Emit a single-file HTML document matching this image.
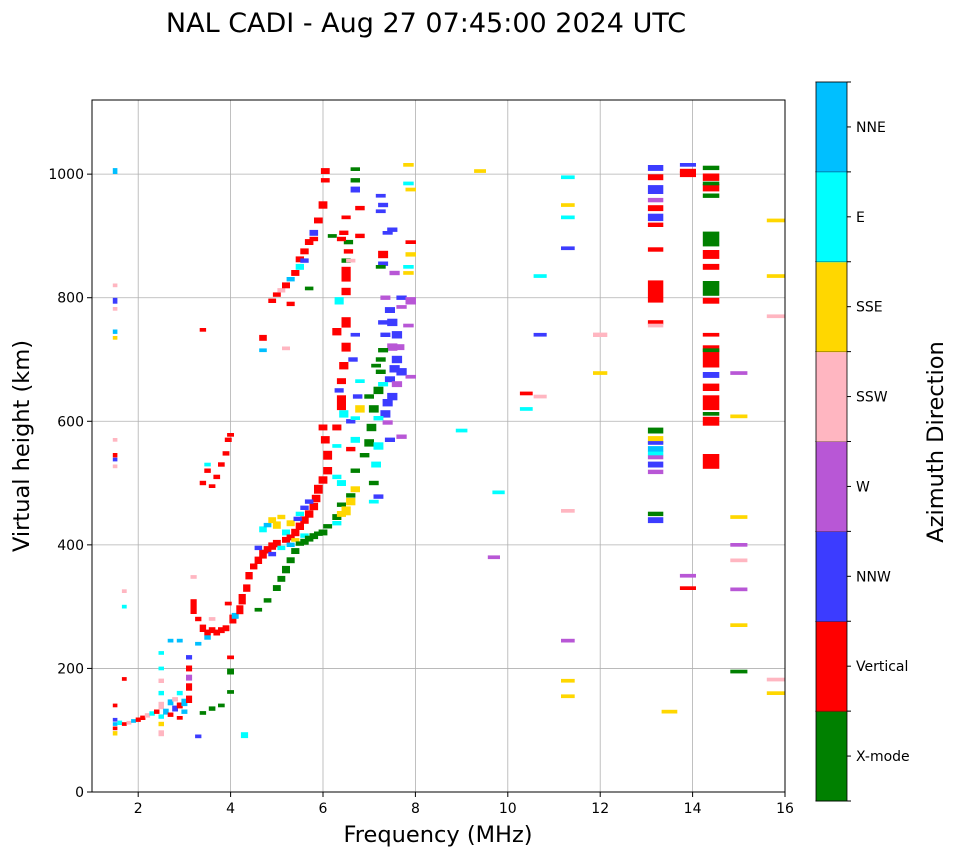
<!DOCTYPE html>
<html><head><meta charset="utf-8">
<style>
html,body{margin:0;padding:0;background:#fff;}
svg{display:block;font-family:"DejaVu Sans","Liberation Sans",sans-serif;}
</style></head>
<body>
<svg id="chart" width="958" height="857" viewBox="0 0 958 857">
  <text x="426" y="32" text-anchor="middle" font-size="27">NAL CADI - Aug 27 07:45:00 2024 UTC</text>
  <g id="grid"></g>
  <g id="marks"></g>
  <rect x="92" y="100" width="693" height="692" fill="none" stroke="#000" stroke-width="1"/>
  <g id="axes"></g>
  <text x="438" y="842" text-anchor="middle" font-size="22.5">Frequency (MHz)</text>
  <text transform="translate(29,446) rotate(-90)" text-anchor="middle" font-size="22.5">Virtual height (km)</text>
  <g id="cbar"></g>
  <text transform="translate(943,442) rotate(-90)" text-anchor="middle" font-size="22.5">Azimuth Direction</text>
</svg>
<script>
const categories = ["X-mode","Vertical","NNW","W","SSW","SSE","E","NNE"];
const catColors = ["#008000","#ff0000","#3c3cff","#b857d6","#ffb6c1","#ffd700","#00ffff","#00bfff"];
const xTicks = [2,4,6,8,10,12,14,16];
const yTicks = [0,200,400,600,800,1000];
// echo data: frequency (MHz), virtual height (km), vertical extent (km), direction index
const freqs = [
1.5,1.5,1.5,1.5,1.5,1.5,1.5,1.5,1.5,1.5,1.5,1.5,1.5,1.5,1.5,1.7,1.7,1.7,
1.6,1.7,1.8,1.9,2.0,2.1,2.2,2.3,2.4,
2.5,2.5,2.5,2.5,2.5,2.5,2.5,2.5,
2.6,2.7,2.7,2.8,2.8,2.9,2.9,3.0,3.0,3.1,3.1,3.1,3.1,3.1,2.9,2.7,2.9,
3.2,3.2,3.3,3.3,3.4,3.5,3.5,3.6,3.7,3.8,3.9,3.95,3.6,3.3,
3.4,3.6,3.8,4.0,4.0,4.0,4.3,
4.05,4.1,4.2,4.25,4.35,4.4,4.5,4.6,4.7,4.8,4.9,5.0,4.6,
4.7,4.8,4.9,5.0,5.1,5.2,5.3,5.2,5.3,5.4,5.5,5.6,5.7,5.8,5.85,5.9,6.0,6.1,6.1,6.05,6.0,5.5,5.6,5.45,5.7,5.3,4.9,5.1,5.4,5.6,
4.6,4.8,5.0,5.1,5.2,5.3,5.4,5.5,5.6,5.7,5.8,5.9,6.0,6.1,6.3,6.4,6.6,6.7,6.9,7.0,7.05,7.1,7.2,7.25,6.5,6.55,6.7,5.7,6.2,
6.5,6.6,6.4,6.7,6.3,6.4,6.3,
3.4,3.5,3.6,3.7,3.8,3.9,3.95,4.0,3.5,4.7,4.7,3.4,5.2,
4.9,5.0,5.1,5.2,5.3,5.4,5.5,5.5,5.6,5.7,5.8,5.9,6.0,6.05,6.05,5.3,5.6,5.8,
6.45,6.4,6.35,6.4,6.45,6.5,6.3,6.5,6.35,6.5,6.5,6.55,6.4,6.45,6.5,6.3,6.6,6.7,6.6,6.3,6.7,
6.7,6.7,6.8,6.8,6.6,6.65,6.7,6.75,6.8,6.8,
7.25,7.3,7.25,7.3,7.3,7.25,7.4,7.5,7.35,7.45,7.5,7.6,7.5,7.6,7.55,7.45,7.6,7.5,7.4,7.35,7.4,7.45,7.7,7.7,7.65,7.7,7.55,7.7,7.3,7.25,7.15,7.3,7.2,7.0,7.2,7.15,7.1,7.2,7.1,7.3,7.35,
7.85,7.85,7.9,7.9,7.9,7.85,7.85,7.9,7.85,7.9,
9.0,9.4,9.8,9.7,10.4,10.4,10.7,10.7,10.7,11.3,11.3,11.3,11.3,11.3,11.3,11.3,11.3,12.0,12.0,
13.2,13.2,13.2,13.2,13.2,13.2,13.2,13.2,13.2,13.2,13.2,13.2,13.2,13.2,13.2,13.2,13.2,13.2,13.2,13.2,13.2,
13.5,13.9,13.9,13.9,13.9,13.9,
14.4,14.4,14.4,14.4,14.4,14.4,14.4,14.4,14.4,14.4,14.4,14.4,14.4,14.4,14.4,14.4,14.4,14.4,14.4,
15.0,15.0,15.0,15.0,15.0,15.0,15.0,15.0,15.8,15.8,15.8,15.8,15.8
];
const heights = [
95,103,110,117,140,1005,545,538,527,570,745,795,782,820,735,300,325,183,
112,110,112,115,117,120,124,127,130,
95,110,122,140,160,180,200,225,
130,125,145,135,150,140,160,130,145,150,170,185,200,218,120,245,245,
300,348,90,280,265,258,250,262,258,262,265,305,280,240,
128,135,140,195,162,218,92,
280,285,295,312,330,350,365,375,385,392,398,402,395,
425,432,440,432,445,420,435,408,412,420,430,440,450,462,475,490,505,520,545,570,590,450,460,442,470,400,385,395,408,415,
295,310,330,345,360,375,390,402,405,410,414,418,420,430,445,465,480,520,545,565,590,620,650,680,860,890,1008,815,900,
455,470,450,490,435,500,510,
500,520,495,510,530,548,570,578,530,735,715,748,718,
795,805,812,820,830,840,850,862,875,890,905,925,950,990,1005,790,860,895,
612,630,650,665,690,720,745,760,795,810,838,875,895,905,930,590,600,570,555,560,605,
975,990,945,900,860,700,740,640,665,620,
965,950,940,870,855,850,905,910,800,780,760,740,720,700,685,668,660,640,630,612,598,570,575,680,720,785,840,800,715,700,690,660,605,640,560,530,500,478,470,760,740,
1015,985,975,890,870,850,840,795,755,672,
585,1005,485,380,620,645,640,740,835,995,950,930,880,455,245,180,155,740,678,
1010,995,975,958,945,930,918,878,810,760,755,585,570,555,542,530,518,450,440,565,548,
130,1015,1005,1000,350,330,
1010,995,978,965,895,870,850,815,795,740,705,675,655,630,600,535,715,612,985,
678,608,445,400,375,328,270,195,925,835,770,182,160
];
const spans = [
6,5,5,5,3,8,6,4,5,3,6,8,4,3,3,5,3,2,
6,5,5,5,6,6,6,6,6,
8,6,6,10,6,6,4,3,
8,6,8,8,6,8,6,6,10,10,10,8,8,6,4,3,4,
20,3,5,6,10,8,6,8,8,8,8,3,3,3,
5,6,5,8,2,4,8,
12,8,12,14,10,10,8,10,12,10,10,10,6,
8,6,8,10,6,8,8,8,8,10,10,10,10,10,10,12,10,10,12,10,8,6,6,6,6,6,6,6,4,6,
3,6,8,8,10,8,8,6,8,8,8,6,8,6,8,6,6,6,6,10,10,10,10,6,6,6,3,4,3,
12,10,8,8,6,8,6,
6,6,4,6,6,6,6,4,4,8,4,2,3,
6,6,6,8,6,8,8,8,8,8,8,8,10,6,8,6,6,6,
10,20,6,8,10,12,10,14,10,10,20,6,6,6,4,8,6,8,6,4,4,
8,6,6,6,4,6,4,6,4,10,
3,6,4,10,6,4,4,6,6,8,10,10,10,10,10,8,8,10,10,10,6,6,6,10,8,4,6,6,6,6,4,6,6,6,10,8,6,6,4,6,6,
3,4,4,3,6,3,4,10,3,3,
3,3,3,3,3,3,3,3,3,3,3,3,3,3,3,3,3,6,3,
8,8,12,6,8,10,6,6,30,6,3,8,10,8,6,8,6,6,8,4,4,
3,3,6,8,3,5,
6,10,10,6,20,12,8,20,8,4,30,8,10,20,12,20,4,4,4,
3,3,3,3,3,3,3,3,3,3,2,2,3
];
const dirs = [
5,1,7,2,1,7,1,2,4,4,7,2,4,4,5,6,4,1,
6,1,4,7,1,1,4,6,1,
4,5,6,4,6,4,6,6,
7,1,7,2,4,1,6,7,7,1,1,3,1,2,1,7,7,
1,4,2,1,1,1,7,1,1,1,1,1,4,7,
0,0,0,0,0,1,6,
1,7,1,1,1,1,1,1,1,1,1,1,2,
6,7,5,5,5,6,5,1,1,1,1,1,1,1,1,1,1,1,1,1,1,6,2,2,2,7,2,6,5,6,
0,0,0,0,0,0,0,0,0,0,0,0,0,0,0,0,0,0,0,0,0,0,0,0,0,0,0,0,0,
5,5,5,5,6,6,6,
1,1,1,1,1,1,1,1,6,1,7,1,4,
1,1,4,1,7,1,6,1,1,1,2,1,1,1,1,1,2,1,
6,1,2,1,1,1,1,1,6,1,1,1,1,1,1,1,2,6,1,6,6,
2,0,1,1,4,2,2,2,6,5,
2,2,2,1,2,0,2,2,3,2,2,2,3,2,2,2,3,2,2,2,3,2,3,2,3,3,3,2,0,0,0,6,6,0,6,6,0,2,6,2,2,
5,6,5,1,5,6,5,3,3,3,
6,5,6,3,6,1,4,2,6,6,5,6,2,4,3,5,5,4,5,
2,1,2,3,1,2,1,1,1,1,4,0,5,7,3,2,3,0,2,2,6,
5,2,1,1,3,1,
0,1,1,0,0,1,1,0,1,1,1,2,1,1,1,1,0,0,0,
3,5,5,3,4,3,5,0,5,5,4,4,5
];

const X0=92, X1=785, Y0=792, Y1=100, FMIN=1, FMAX=16, HMIN=0, HMAX=1120;
function xScale(f){return X0+(f-FMIN)/(FMAX-FMIN)*(X1-X0);}
function yScale(h){return Y0-(h-HMIN)/(HMAX-HMIN)*(Y0-Y1);}
const NS="http://www.w3.org/2000/svg";
function mk(tag,attrs,parent){const e=document.createElementNS(NS,tag);for(const k in attrs)e.setAttribute(k,attrs[k]);parent.appendChild(e);return e;}

const grid=document.getElementById('grid');
xTicks.forEach(t=>{const l=mk('line',{x1:xScale(t),x2:xScale(t),y1:Y1,y2:Y0,stroke:'#b0b0b0','stroke-width':0.8},grid);

});
yTicks.forEach(t=>{const l=mk('line',{x1:X0,x2:X1,y1:yScale(t),y2:yScale(t),stroke:'#b0b0b0','stroke-width':0.8},grid);

});

const marks=document.getElementById('marks');
for(let i=0;i<freqs.length;i++){
  const f=freqs[i];
  const wMHz=0.07+0.02*f;
  const x=xScale(f-wMHz/2), w=xScale(f+wMHz/2)-x;
  const dh=Math.max(spans[i]*1.2,6);
  const y=yScale(heights[i]+dh/2), h=yScale(heights[i]-dh/2)-y;
  const r=mk('rect',{x:x.toFixed(1),y:y.toFixed(1),width:w.toFixed(1),height:h.toFixed(1),fill:catColors[dirs[i]]},marks);
  
  
}

const axes=document.getElementById('axes');
xTicks.forEach(t=>{const x=xScale(t);
  mk('line',{x1:x,x2:x,y1:Y0,y2:Y0+5,stroke:'#000'},axes);
  const tx=mk('text',{x:x,y:Y0+21,'text-anchor':'middle','font-size':14},axes);tx.textContent=t;
  
  });
yTicks.forEach(t=>{const y=yScale(t);
  mk('line',{x1:X0-5,x2:X0,y1:y,y2:y,stroke:'#000'},axes);
  const tx=mk('text',{x:X0-8,y:y+5,'text-anchor':'end','font-size':14},axes);tx.textContent=t;
  
  });

const cbar=document.getElementById('cbar');
const CB0=801, CB1=82, CX=816, CW=31, seg=(CB0-CB1)/categories.length;
categories.forEach((c,i)=>{
  const y=CB0-(i+1)*seg;
  const r=mk('rect',{x:CX,y:y,width:CW,height:seg+0.5,fill:catColors[i]},cbar);
  
  
  const yc=y+seg/2;
  mk('line',{x1:CX+CW,x2:CX+CW+4,y1:yc,y2:yc,stroke:'#000'},cbar);
  const t=mk('text',{x:CX+CW+9,y:yc+5,'font-size':14},cbar);t.textContent=c;
  
  
});
for(let i=0;i<=categories.length;i++){const y=CB0-i*seg;
  mk('line',{x1:CX+CW,x2:CX+CW+4,y1:y,y2:y,stroke:'#000'},cbar);
  mk('line',{x1:CX-1,x2:CX+CW,y1:y,y2:y,stroke:'#000','stroke-width':0.3},cbar);}
mk('rect',{x:CX,y:CB1,width:CW,height:CB0-CB1,fill:'none',stroke:'#000','stroke-width':0.8},cbar);
</script>
</body></html>
